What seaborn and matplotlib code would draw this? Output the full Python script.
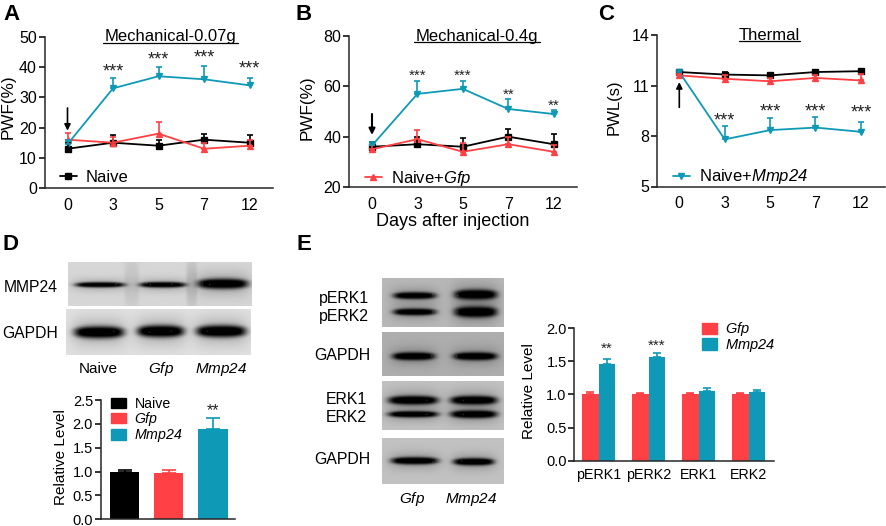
import numpy as np
import pandas as pd
import matplotlib
matplotlib.use("Agg")
import matplotlib.pyplot as plt
from matplotlib.lines import Line2D
from matplotlib.patches import Patch
import seaborn as sns

W, H = 886, 526

BLACK = '#000000'
RED = '#FF4044'
TEAL = '#0E9AB6'

# line panels
days = ['0', '3', '5', '7', '12']
groups = ['Naive', 'Gfp', 'Mmp24']

a_naive = [13, 15, 14, 16, 15]
a_gfp = [16, 15, 18, 13, 14]
a_mmp = [14.5, 33, 37, 36, 34]
a_naive_err = [2, 2.5, 2, 2, 2.5]
a_gfp_err = [2.2, 2, 3.7, 2, 2]
a_mmp_err = [1.5, 3.3, 3, 4.5, 2.5]
a_stars = ['', '***', '***', '***', '***']
a_star_y = [0, 38.3, 42.3, 43, 39.3]

b_naive = [36, 37, 36, 40, 37]
b_gfp = [35, 39, 34, 37, 34]
b_mmp = [36.5, 57, 59, 51, 49]
b_naive_err = [2, 3, 3.5, 3, 4]
b_gfp_err = [1.5, 3.5, 3.5, 3, 2.5]
b_mmp_err = [1.5, 5, 3, 4, 1.5]
b_stars = ['', '***', '***', '**', '**']
b_star_y = [0, 64.2, 64.2, 56.6, 52.3]

c_naive = [11.8, 11.65, 11.6, 11.8, 11.85]
c_gfp = [11.6, 11.4, 11.25, 11.45, 11.3]
c_mmp = [11.8, 7.8, 8.35, 8.5, 8.25]
c_naive_err = [0.15, 0.15, 0.1, 0.1, 0.1]
c_gfp_err = [0.1, 0.2, 0.2, 0.2, 0.4]
c_mmp_err = [0.15, 0.8, 0.7, 0.65, 0.6]
c_stars = ['', '***', '***', '***', '***']
c_star_y = [0, 8.9, 9.45, 9.45, 9.35]

# bar panels
d_labels = ['Naive', 'Gfp', 'Mmp24']
d_values = [1.0, 0.98, 1.9]
d_err = [0.04, 0.05, 0.23]

e_labels = ['pERK1', 'pERK2', 'ERK1', 'ERK2']
e_gfp = [1.0, 1.0, 1.0, 1.0]
e_mmp = [1.45, 1.57, 1.05, 1.04]
e_gfp_err = [0.04, 0.02, 0.02, 0.02]
e_mmp_err = [0.09, 0.05, 0.05, 0.02]
e_stars = ['**', '***', '', '']
e_star_y = [1.68, 1.725, 0, 0]

# blots: left, top, right, bottom, background, [band left, right, y, half height, darkness]
blots = [
    (68, 262, 252, 306, 0.84, [(75, 125, 285, 2.6, 0.95), (139, 186, 285, 2.8, 0.95), (197, 248, 284, 5, 1.0),
                               (124, 139, 284, 24, 0.07), (186, 197, 284, 24, 0.1)]),
    (66, 309, 251, 355, 0.88, [(74, 124, 332, 6, 1.0), (137, 184, 331, 6, 1.0), (196, 246, 331, 6, 1.0)]),
    (382, 278, 504, 327, 0.72, [(393, 436, 296, 3.5, 0.95), (393, 436, 312, 3.5, 0.95),
                                (454, 497, 295, 5, 1.0), (454, 497, 312, 5.5, 1.0)]),
    (382, 332, 504, 376, 0.68, [(392, 435, 356, 4, 1.0), (453, 497, 356, 4, 1.0)]),
    (382, 381, 504, 430, 0.76, [(388, 438, 400, 4.5, 1.0), (450, 497, 400, 4.5, 1.0),
                                (388, 438, 414, 3.2, 1.0), (450, 497, 414, 4, 1.0)]),
    (382, 438, 504, 484, 0.76, [(391, 438, 461, 3.6, 1.0), (453, 494, 462, 3.6, 1.0)]),
]

sns.set_theme(style='ticks')
plt.rcParams['font.family'] = ['Liberation Sans', 'DejaVu Sans']
plt.rcParams['mathtext.fontset'] = 'custom'
plt.rcParams['mathtext.rm'] = 'Liberation Sans'
plt.rcParams['mathtext.tt'] = 'Liberation Sans:italic'
plt.rcParams['axes.linewidth'] = 1.1

fig = plt.figure(figsize=(W / 100, H / 100), dpi=100, facecolor='white')


def add_ax(left, top, right, bottom):
    return fig.add_axes([left / W, 1 - bottom / H, (right - left) / W, (bottom - top) / H])


def put(x, y, s, size=11, **kw):
    kw.setdefault('ha', 'center')
    kw.setdefault('va', 'center')
    fig.text(x / W, 1 - y / H, s, fontsize=size, color='black', **kw)


def style_axis(ax, ticks, size):
    ax.set_yticks(ticks)
    ax.set_xlabel('')
    ax.set_ylabel('')
    ax.tick_params(axis='y', length=4, width=1.1, pad=1.5, labelsize=size, color='black', labelcolor='black')
    ax.tick_params(axis='x', length=0, pad=7, labelsize=size, labelcolor='black')
    sns.despine(ax=ax)
    ax.patch.set_alpha(0)


def line_panel(box, ylim, ticks, series, errs, stars, star_y, star_size):
    ax = add_ax(*box)
    df = pd.DataFrame({
        'day': days * 3,
        'group': np.repeat(groups, 5),
        'value': series[0] + series[1] + series[2],
    })
    sns.pointplot(data=df, x='day', y='value', hue='group', order=days, hue_order=groups,
                  palette=[BLACK, RED, TEAL], markers=['s', '^', 'v'], linestyles='-',
                  errorbar=None, markersize=4.5, linewidth=1.3, legend=False, ax=ax)
    for i, col in enumerate([BLACK, RED, TEAL]):
        ax.errorbar(range(5), series[i], yerr=[[0] * 5, errs[i]], fmt='none', ecolor=col,
                    elinewidth=1.2, capsize=2.5, capthick=1.2, zorder=2 + i)
    for i, s in enumerate(stars):
        if s:
            ax.text(i, star_y[i], s, fontsize=star_size, ha='center', va='center', color='#222222')
    ax.set_ylim(*ylim)
    style_axis(ax, ticks, 11.5)
    return ax


# A
ax_a = line_panel((44.5, 37, 273, 188), (0, 50), [0, 10, 20, 30, 40, 50],
                  [a_naive, a_gfp, a_mmp], [a_naive_err, a_gfp_err, a_mmp_err], a_stars, a_star_y, 13)
ax_a.set_xlim((44.5 - 67.5) / 45.5, (273 - 67.5) / 45.5)
ax_a.annotate('', xy=(0, 19), xytext=(0, 26.5),
              arrowprops=dict(arrowstyle='-|>', color='black', lw=1.2, shrinkA=0, shrinkB=0, mutation_scale=9))

# B
ax_b = line_panel((349, 36, 577, 187), (20, 80), [20, 40, 60, 80],
                  [b_naive, b_gfp, b_mmp], [b_naive_err, b_gfp_err, b_mmp_err], b_stars, b_star_y, 11)
ax_b.set_xlim((349 - 372) / 45.4, (577 - 372) / 45.4)
ax_b.annotate('', xy=(0, 40.7), xytext=(0, 49),
              arrowprops=dict(arrowstyle='-|>', color='black', lw=1.5, shrinkA=0, shrinkB=0, mutation_scale=9))

# C
ax_c = line_panel((657, 35, 885, 186.5), (5, 14), [5, 8, 11, 14],
                  [c_naive, c_gfp, c_mmp], [c_naive_err, c_gfp_err, c_mmp_err], c_stars, c_star_y, 13)
ax_c.set_xlim((657 - 679.3) / 45.4, (885 - 679.3) / 45.4)
ax_c.annotate('', xy=(0, 11.2), xytext=(0, 9.7),
              arrowprops=dict(arrowstyle='-|>', color='black', lw=1.2, shrinkA=0, shrinkB=0, mutation_scale=9))

# the three line panels each carry one legend entry
legend_specs = [(ax_a, BLACK, 's', 'Naive', 60, 177), (ax_b, RED, '^', 'Naive+$\\mathtt{Gfp}$', 365, 178),
                (ax_c, TEAL, 'v', 'Naive+$\\mathtt{Mmp24}$', 673, 177)]
for ax, col, mk, label, lx, ly in legend_specs:
    handle = Line2D([], [], color=col, marker=mk, markersize=4.5, lw=1.3)
    ax.legend(handles=[handle], labels=[label], loc='center left', bbox_to_anchor=(lx / W, 1 - ly / H),
              bbox_transform=fig.transFigure, frameon=False, fontsize=12, handlelength=1.0,
              handletextpad=0.55, borderpad=0, borderaxespad=0, labelcolor='black')

# titles with underline
for cx, y, uy, half, s in [(170, 36, 42.5, 67.5, 'Mechanical-0.07g'), (477, 36, 42, 63, 'Mechanical-0.4g'),
                           (769, 35, 41, 30.5, 'Thermal')]:
    put(cx, y, s, 12)
    fig.add_artist(Line2D([(cx - half) / W, (cx + half) / W], [1 - uy / H] * 2, color='black', lw=0.9))

put(453, 221, 'Days after injection', 13)
put(8.5, 107, 'PWF(%)', 12.3, rotation=90)
put(307, 108, 'PWF(%)', 12.3, rotation=90)
put(614, 107, 'PWL(s)', 12, rotation=90)

for x, y, s in [(12, 14, 'A'), (304, 14, 'B'), (606, 14, 'C'), (11, 244, 'D'), (304, 244, 'E')]:
    put(x, y, s, 16, fontweight='bold')

# D bars
ax_d = add_ax(100.7, 400, 235, 519.3)
sns.barplot(x=d_labels, y=d_values, hue=d_labels, palette=[BLACK, RED, TEAL], width=0.66,
            saturation=1, linewidth=0, legend=False, ax=ax_d)
for i, col in enumerate([BLACK, RED, TEAL]):
    ax_d.errorbar([i], [d_values[i]], yerr=[[0], [d_err[i]]], fmt='none', ecolor=col,
                  elinewidth=1.2, capsize=5, capthick=1.2)
ax_d.text(2, 2.27, '**', fontsize=11.5, ha='center', va='center', color='#222222')
ax_d.set_ylim(0, 2.5)
ax_d.set_xlim((100.7 - 124.5) / 44.3, (235 - 124.5) / 44.3)
style_axis(ax_d, [0, 0.5, 1.0, 1.5, 2.0, 2.5], 10.5)
ax_d.set_xticks([])
# bottom label sits close to the figure edge
for lab in ax_d.get_yticklabels():
    lab.set_verticalalignment('center_baseline')
ax_d.legend(handles=[Patch(color=BLACK), Patch(color=RED), Patch(color=TEAL)],
            labels=['Naive', '$\\mathtt{Gfp}$', '$\\mathtt{Mmp24}$'], loc='upper left',
            bbox_to_anchor=(111 / W, 1 - 397 / H), bbox_transform=fig.transFigure, frameon=False,
            fontsize=10.2, handlelength=1.05, handleheight=0.75, handletextpad=0.6, labelspacing=-0.06,
            borderpad=0, borderaxespad=0, labelcolor='black')
put(61, 457, 'Relative Level', 11, rotation=90)

# E bars
ax_e = add_ax(574.3, 328, 774, 460.7)
e_df = pd.DataFrame({
    'target': e_labels * 2,
    'group': np.repeat(['Gfp', 'Mmp24'], 4),
    'value': e_gfp + e_mmp,
})
sns.barplot(data=e_df, x='target', y='value', hue='group', palette=[RED, TEAL], width=0.66,
            gap=0, saturation=1, linewidth=0, legend=False, ax=ax_e)
for offset, vals, errs, col in [(-0.165, e_gfp, e_gfp_err, RED), (0.165, e_mmp, e_mmp_err, TEAL)]:
    ax_e.errorbar(np.arange(4) + offset, vals, yerr=[[0] * 4, errs], fmt='none', ecolor=col,
                  elinewidth=1.2, capsize=3.2, capthick=1.2)
for i, s in enumerate(e_stars):
    if s:
        ax_e.text(i + 0.165, e_star_y[i], s, fontsize=11, ha='center', va='center', color='#222222')
ax_e.set_ylim(0, 2.0)
ax_e.set_xlim((574.3 - 598.5) / 50, (774 - 598.5) / 50)
style_axis(ax_e, [0, 0.5, 1.0, 1.5, 2.0], 10.5)
ax_e.tick_params(axis='x', labelsize=10.3, pad=5.5)
ax_e.legend(handles=[Patch(color=RED), Patch(color=TEAL)],
            labels=['$\\mathtt{Gfp}$', '$\\mathtt{Mmp24}$'], loc='upper left',
            bbox_to_anchor=(702 / W, 1 - 320.5 / H), bbox_transform=fig.transFigure, frameon=False,
            fontsize=10.5, handlelength=1.0, handleheight=0.85, handletextpad=0.6, labelspacing=-0.12,
            borderpad=0, borderaxespad=0, labelcolor='black')
put(529, 391, 'Relative Level', 11, rotation=90)


# western blot strips
def draw_blot(left, top, right, bottom, bg, bands):
    ax = add_ax(left, top, right, bottom)
    xs = np.arange(left, right, 0.5)
    ys = np.arange(top, bottom, 0.5)
    xx, yy = np.meshgrid(xs, ys)
    img = np.full(xx.shape, float(bg))
    for x0, x1, yc, hh, dark in bands:
        cx = (x0 + x1) / 2
        hw = (x1 - x0) / 2
        taper = 1 - 0.25 * (np.abs(xx - cx) / hw) ** 2
        prof_x = np.exp(-np.abs((xx - cx) / hw) ** 6)
        prof_y = np.exp(-np.abs((yy - yc) / (hh * taper)) ** 2.6)
        halo = 0.22 * dark * np.exp(-np.abs((xx - cx) / (hw * 1.1)) ** 4) * np.exp(-((yy - yc) / (hh * 2.4)) ** 2)
        img = img * (1 - np.clip(dark * prof_x * prof_y + halo, 0, 1))
    ax.imshow(img, cmap='gray', vmin=0, vmax=1, aspect='auto', interpolation='bilinear')
    ax.axis('off')


for b in blots:
    draw_blot(*b)

put(58, 287, 'MMP24', 11.3, ha='right')
put(58, 334, 'GAPDH', 11.3, ha='right')
put(98, 369, 'Naive', 11)
put(161, 369, '$\\mathtt{Gfp}$', 11)
put(221, 369, '$\\mathtt{Mmp24}$', 11)

put(369, 298, 'pERK1', 11.4, ha='right')
put(369, 317, 'pERK2', 11.4, ha='right')
put(370, 355, 'GAPDH', 11.4, ha='right')
put(367, 400, 'ERK1', 11.4, ha='right')
put(367, 418, 'ERK2', 11.4, ha='right')
put(370, 460, 'GAPDH', 11.4, ha='right')
put(412, 499, '$\\mathtt{Gfp}$', 11)
put(471, 499, '$\\mathtt{Mmp24}$', 11)

fig.savefig('out.png', dpi=100)
